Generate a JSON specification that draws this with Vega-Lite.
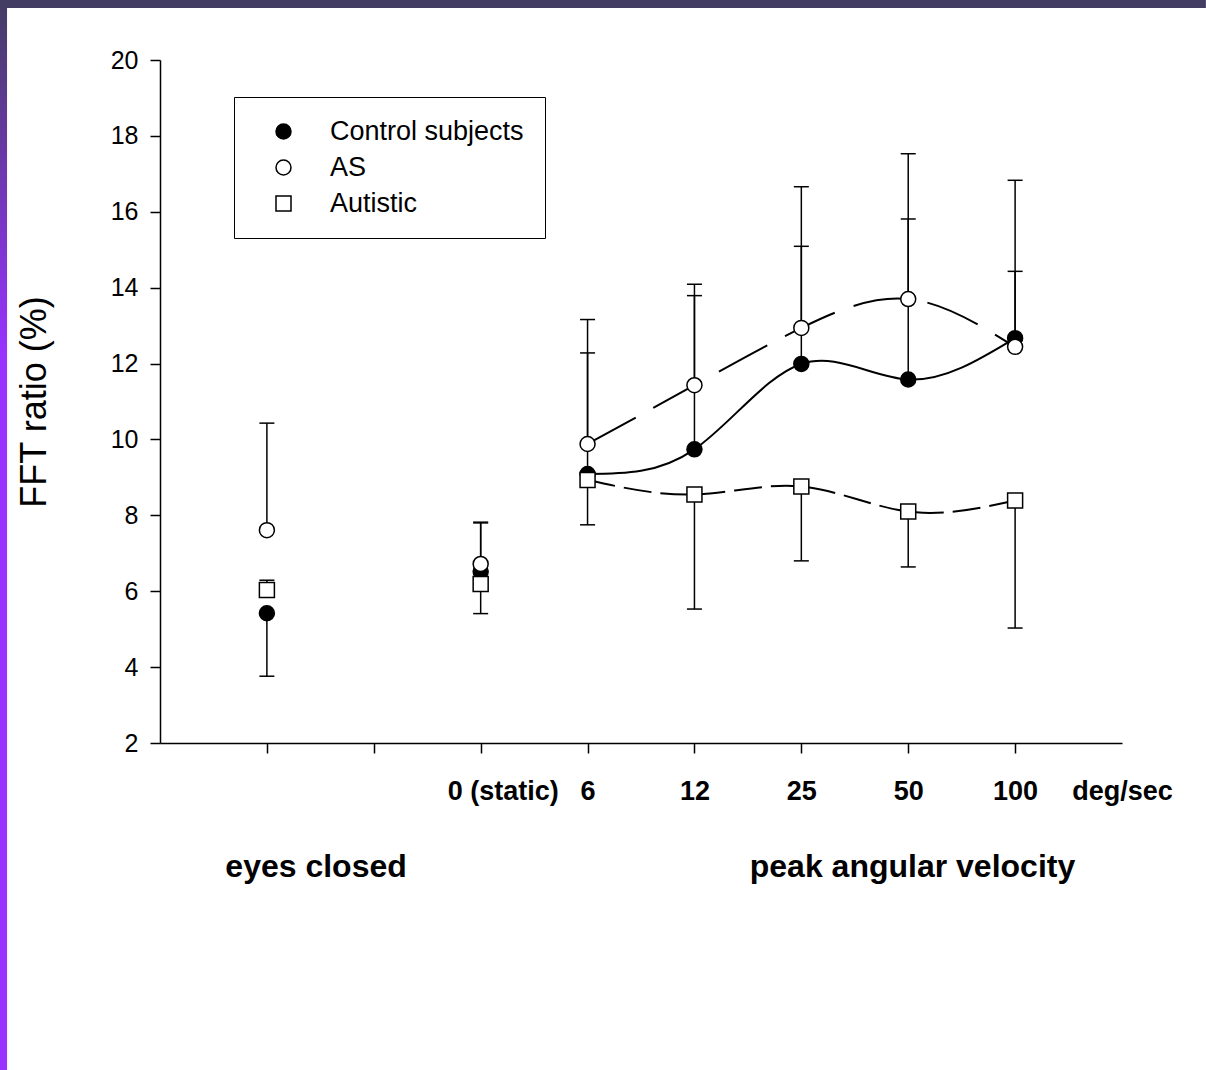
{
  "$schema": "https://vega.github.io/schema/vega-lite/v6.json",
  "width": 962,
  "height": 683,
  "autosize": {"type": "none"},
  "padding": {"left": 160, "top": 60, "right": 84, "bottom": 327},
  "background": "white",
  "config": {
    "view": {"stroke": null},
    "font": "Liberation Sans",
    "axis": {"grid": false, "domainColor": "black", "tickColor": "black", "labelColor": "black", "titleColor": "black", "domainWidth": 1.5, "tickWidth": 1.5, "tickSize": 10},
    "legend": {"labelLimit": 400}
  },
  "datasets": {
    "pts": [
      {"pos": 1, "group": "Control subjects", "mean": 5.42, "end": 3.76},
      {"pos": 3, "group": "Control subjects", "mean": 6.52, "end": 7.8},
      {"pos": 4, "group": "Control subjects", "mean": 9.09, "end": 12.28},
      {"pos": 5, "group": "Control subjects", "mean": 9.74, "end": 13.79},
      {"pos": 6, "group": "Control subjects", "mean": 11.99, "end": 15.09},
      {"pos": 7, "group": "Control subjects", "mean": 11.58, "end": 15.81},
      {"pos": 8, "group": "Control subjects", "mean": 12.67, "end": 14.43},
      {"pos": 1, "group": "AS", "mean": 7.61, "end": 10.43},
      {"pos": 3, "group": "AS", "mean": 6.72, "end": 7.82},
      {"pos": 4, "group": "AS", "mean": 9.88, "end": 13.16},
      {"pos": 5, "group": "AS", "mean": 11.43, "end": 14.09},
      {"pos": 6, "group": "AS", "mean": 12.94, "end": 16.66},
      {"pos": 7, "group": "AS", "mean": 13.7, "end": 17.53},
      {"pos": 8, "group": "AS", "mean": 12.44, "end": 16.83},
      {"pos": 1, "group": "Autistic", "mean": 6.03, "end": 6.29},
      {"pos": 3, "group": "Autistic", "mean": 6.19, "end": 5.41},
      {"pos": 4, "group": "Autistic", "mean": 8.93, "end": 7.75},
      {"pos": 5, "group": "Autistic", "mean": 8.55, "end": 5.53},
      {"pos": 6, "group": "Autistic", "mean": 8.76, "end": 6.8},
      {"pos": 7, "group": "Autistic", "mean": 8.1, "end": 6.64},
      {"pos": 8, "group": "Autistic", "mean": 8.39, "end": 5.03}
    ],
    "groups": [
      {"label": "eyes closed", "pos": 1.46},
      {"label": "peak angular velocity", "pos": 7.04}
    ],
    "frame": [{"part": "frame"}]
  },
  "layer": [
    {
      "data": {"name": "frame"},
      "mark": {"type": "rect", "color": {"gradient": "linear", "x1": 0, "y1": 0, "x2": 0, "y2": 1, "stops": [{"offset": 0, "color": "#433c63"}, {"offset": 0.33, "color": "#9933ff"}, {"offset": 1, "color": "#9933ff"}]}},
      "encoding": {
        "x": {"datum": -1.497, "type": "quantitative", "scale": {"domain": [0, 9], "nice": false, "zero": false}},
        "x2": {"datum": -1.431},
        "y": {"datum": 21.581, "type": "quantitative", "scale": {"domain": [2, 20], "nice": false, "zero": false}},
        "y2": {"datum": -6.618}
      }
    },
    {
      "data": {"name": "frame"},
      "mark": {"type": "rect", "color": "#433c63"},
      "encoding": {
        "x": {"datum": -1.497, "type": "quantitative"},
        "x2": {"datum": 9.785},
        "y": {"datum": 21.581, "type": "quantitative"},
        "y2": {"datum": 21.37}
      }
    },
    {
      "data": {"name": "pts"},
      "mark": {"type": "rule", "color": "black", "strokeWidth": 1.5},
      "encoding": {
        "x": {"field": "pos", "type": "quantitative", "scale": {"domain": [0, 9], "nice": false, "zero": false},
          "axis": {"values": [1, 2, 3, 4, 5, 6, 7, 8, 9], "title": null, "labelFontWeight": "bold", "labelFontSize": 27, "labelPadding": 25, "labelFlush": false, "labelOverlap": false, "labelBound": false,
            "labelExpr": "datum.value == 3 ? '0 (static)' : datum.value == 4 ? '6' : datum.value == 5 ? '12' : datum.value == 6 ? '25' : datum.value == 7 ? '50' : datum.value == 8 ? '100' : datum.value == 9 ? 'deg/sec' : ''",
            "labelOffset": {"condition": {"test": "datum.value == 3", "value": 22}, "value": 0},
            "tickOpacity": {"condition": {"test": "datum.value == 9", "value": 0}, "value": 1}}},
        "y": {"field": "mean", "type": "quantitative", "scale": {"domain": [2, 20], "nice": false, "zero": false},
          "axis": {"values": [2, 4, 6, 8, 10, 12, 14, 16, 18, 20], "title": "FFT ratio (%)", "titleFontSize": 36, "titleFontWeight": "normal", "titlePadding": 57, "labelFontSize": 25, "labelPadding": 12}},
        "y2": {"field": "end"}
      }
    },
    {
      "data": {"name": "pts"},
      "mark": {"type": "tick", "orient": "horizontal", "color": "black", "size": 15, "thickness": 1.5, "opacity": 1},
      "encoding": {
        "x": {"field": "pos", "type": "quantitative"},
        "y": {"field": "end", "type": "quantitative"}
      }
    },
    {
      "data": {"name": "pts"},
      "transform": [{"filter": "datum.pos >= 4 && datum.group == 'Control subjects'"}],
      "mark": {"type": "line", "color": "black", "strokeWidth": 2, "interpolate": "natural"},
      "encoding": {
        "x": {"field": "pos", "type": "quantitative"},
        "y": {"field": "mean", "type": "quantitative"}
      }
    },
    {
      "data": {"name": "pts"},
      "transform": [{"filter": "datum.pos >= 4 && datum.group == 'AS'"}],
      "mark": {"type": "line", "color": "black", "strokeWidth": 2, "interpolate": "natural", "strokeDash": [55, 20]},
      "encoding": {
        "x": {"field": "pos", "type": "quantitative"},
        "y": {"field": "mean", "type": "quantitative"}
      }
    },
    {
      "data": {"name": "pts"},
      "transform": [{"filter": "datum.pos >= 4 && datum.group == 'Autistic'"}],
      "mark": {"type": "line", "color": "black", "strokeWidth": 2, "interpolate": "natural", "strokeDash": [28, 9]},
      "encoding": {
        "x": {"field": "pos", "type": "quantitative"},
        "y": {"field": "mean", "type": "quantitative"}
      }
    },
    {
      "data": {"name": "pts"},
      "mark": {"type": "point", "filled": true, "strokeWidth": 1.5, "opacity": 1, "size": 225},
      "encoding": {
        "x": {"field": "pos", "type": "quantitative"},
        "y": {"field": "mean", "type": "quantitative"},
        "shape": {"field": "group", "type": "nominal", "scale": {"domain": ["Control subjects", "AS", "Autistic"], "range": ["circle", "circle", "square"]},
          "legend": {"title": null, "orient": "none", "legendX": 74, "legendY": 37, "padding": 21, "strokeColor": "black", "fillColor": "white", "labelFontSize": 27, "labelColor": "black", "labelLimit": 400, "labelOffset": 33, "symbolOffset": 15, "symbolSize": 225, "symbolStrokeWidth": 1.5, "rowPadding": 8, "cornerRadius": 0}},
        "fill": {"field": "group", "type": "nominal", "scale": {"domain": ["Control subjects", "AS", "Autistic"], "range": ["black", "white", "white"]},
          "legend": {"title": null, "orient": "none", "legendX": 74, "legendY": 37, "padding": 21, "strokeColor": "black", "fillColor": "white", "labelFontSize": 27, "labelColor": "black", "labelLimit": 400, "labelOffset": 33, "symbolOffset": 15, "symbolSize": 225, "symbolStrokeWidth": 1.5, "rowPadding": 8, "cornerRadius": 0}},
        "stroke": {"field": "group", "type": "nominal", "scale": {"domain": ["Control subjects", "AS", "Autistic"], "range": ["black", "black", "black"]},
          "legend": {"title": null, "orient": "none", "legendX": 74, "legendY": 37, "padding": 21, "strokeColor": "black", "fillColor": "white", "labelFontSize": 27, "labelColor": "black", "labelLimit": 400, "labelOffset": 33, "symbolOffset": 15, "symbolSize": 225, "symbolStrokeWidth": 1.5, "rowPadding": 8, "cornerRadius": 0}}
      }
    },
    {
      "data": {"name": "groups"},
      "mark": {"type": "text", "fontSize": 32, "fontWeight": "bold", "color": "black", "baseline": "middle", "align": "center"},
      "encoding": {
        "x": {"field": "pos", "type": "quantitative"},
        "y": {"datum": -1.27, "type": "quantitative"},
        "text": {"field": "label"}
      }
    }
  ]
}
